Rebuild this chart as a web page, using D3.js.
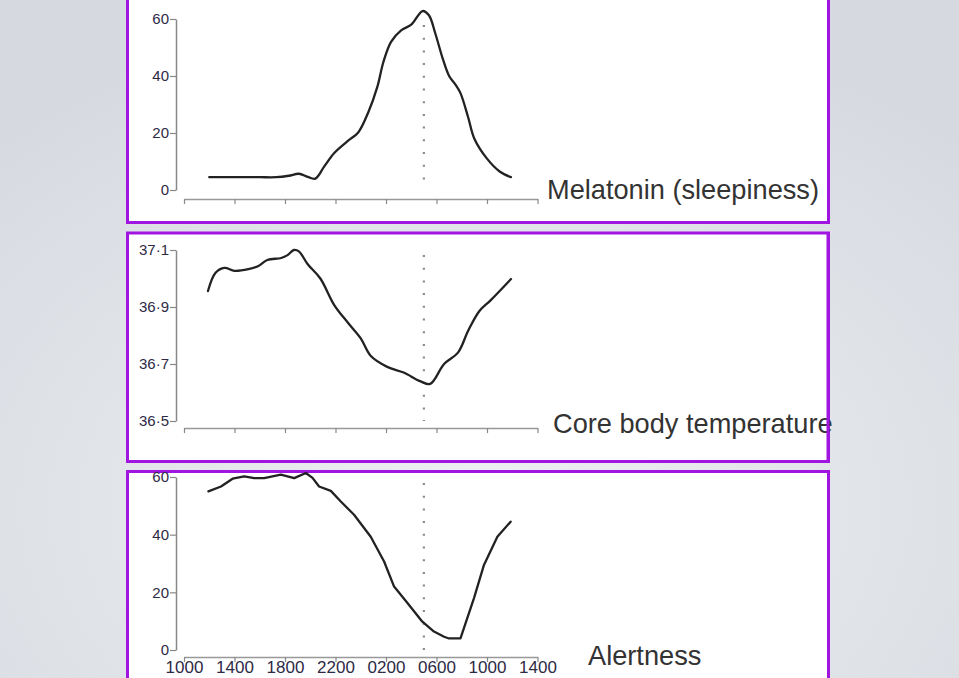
<!DOCTYPE html>
<html>
<head>
<meta charset="utf-8">
<script src="https://cdn.jsdelivr.net/npm/d3@7"></script>
<style>
  html, body { margin: 0; padding: 0; overflow: hidden; }
  svg { display: block; }
</style>
</head>
<body>
<svg id="chart" width="959" height="678"></svg>
<script>
// ---- data (hours counted from 00:00 of day 1; 24+ = next day) ----
const xTickHours = [10, 14, 18, 22, 26, 30, 34, 38];
const xTickLabels = ["1000", "1400", "1800", "2200", "0200", "0600", "1000", "1400"];
const markerHour = 29; // 0500 dotted line

const melatoninHours  = [12, 14, 16, 17.3, 18.3, 19.1, 19.8, 20.4, 21.1, 21.9, 23, 23.8, 24.6, 25.3, 25.8, 26.4, 27.2, 28, 28.9, 29.4, 29.9, 30.5, 31, 31.5, 31.9, 32.5, 33, 34, 35, 35.9];
const melatoninValues = [4.5, 4.5, 4.5, 4.5, 5, 5.7, 4.6, 4, 8.2, 13, 17.3, 20.2, 27.3, 36, 45, 52, 56, 58, 62.8, 61.3, 55, 46, 40, 37, 34, 25.6, 18, 11, 6.5, 4.5];
const melatoninTicks = [0, 20, 40, 60];
const melatoninTickLabels = ["0", "20", "40", "60"];

const tempHours  = [11.9, 12.5, 13.2, 14, 15.1, 15.9, 16.6, 17.7, 18.2, 18.7, 19.1, 19.8, 20.8, 21.9, 23, 24, 24.8, 26.1, 27.4, 28.7, 29.5, 30.6, 31.7, 32.5, 33.4, 34.3, 35.9];
const tempValues = [36.956, 37.02, 37.037, 37.027, 37.033, 37.044, 37.065, 37.072, 37.082, 37.1, 37.095, 37.05, 37.0, 36.907, 36.844, 36.79, 36.728, 36.69, 36.67, 36.64, 36.63, 36.70, 36.74, 36.816, 36.886, 36.924, 36.998];
const tempTicks = [36.5, 36.7, 36.9, 37.1];
const tempTickLabels = ["36·5", "36·7", "36·9", "37·1"];

const alertHours  = [11.93, 12.93, 13.85, 14.77, 15.56, 16.35, 17.67, 18.73, 19.65, 20.18, 20.7, 21.63, 22.42, 23.47, 24.79, 25.85, 26.64, 27.7, 28.88, 29.8, 30.6, 30.99, 31.9, 32.97, 33.76, 34.82, 35.87];
const alertValues = [55, 56.7, 59.4, 60.2, 59.6, 59.6, 60.8, 59.6, 61.4, 59.7, 56.7, 55.2, 51.5, 46.9, 39.3, 30.7, 22, 16.3, 9.8, 6.4, 4.6, 4, 4, 18, 29.5, 39.3, 44.5];
const alertTicks = [0, 20, 40, 60];
const alertTickLabels = ["0", "20", "40", "60"];

const panelTitles = ["Melatonin (sleepiness)", "Core body temperature", "Alertness"];

// ---- drawing ----
const svg = d3.select("#chart");
const defs = svg.append("defs");
const grad = defs.append("radialGradient").attr("id", "bg")
  .attr("cx", "50%").attr("cy", "75%").attr("r", "75%");
grad.append("stop").attr("offset", "0%").attr("stop-color", "#eeeff2");
grad.append("stop").attr("offset", "100%").attr("stop-color", "#d6dae0");
svg.append("rect").attr("width", 959).attr("height", 678).attr("fill", "url(#bg)");

const x = d3.scaleLinear().domain([10, 38]).range([184, 537.5]);
const font = "'Liberation Sans', Arial, sans-serif";

const panels = [
  { top: -6, bottom: 222.5, yDomain: [0, 60], yRange: [190, 19], axisY: 199, dotTop: 25,
    hours: melatoninHours, values: melatoninValues, ticks: melatoninTicks, tickLabels: melatoninTickLabels,
    curve: d3.curveCatmullRom.alpha(0.5), title: panelTitles[0], titleX: 547, titleY: 199, showX: false },
  { top: 233, bottom: 461.5, yDomain: [36.5, 37.1], yRange: [421, 250], axisY: 428, dotTop: 255,
    hours: tempHours, values: tempValues, ticks: tempTicks, tickLabels: tempTickLabels,
    curve: d3.curveCatmullRom.alpha(0.5), title: panelTitles[1], titleX: 553, titleY: 433, showX: false },
  { top: 471.5, bottom: 700, yDomain: [0, 60], yRange: [650, 477], axisY: 657, dotTop: 483,
    hours: alertHours, values: alertValues, ticks: alertTicks, tickLabels: alertTickLabels,
    curve: d3.curveLinear, title: panelTitles[2], titleX: 588, titleY: 665, showX: true }
];

panels.forEach(p => {
  const g = svg.append("g");
  // frame
  g.append("rect")
    .attr("x", 127.5).attr("y", p.top)
    .attr("width", 701).attr("height", p.bottom - p.top)
    .attr("fill", "#ffffff").attr("stroke", "#a015e0").attr("stroke-width", 3);

  const y = d3.scaleLinear().domain(p.yDomain).range(p.yRange);

  // y axis
  const yAxis = d3.axisLeft(y).tickValues(p.ticks)
    .tickFormat((d, i) => p.tickLabels[i]).tickSize(6).tickSizeOuter(0);
  const ya = g.append("g").attr("transform", "translate(176,0)").call(yAxis);
  ya.select(".domain").attr("stroke", "#888").attr("stroke-width", 1.5);
  ya.selectAll(".tick line").attr("stroke", "#888").attr("stroke-width", 1.2);
  ya.selectAll(".tick text").attr("fill", "#2e2a45")
    .style("font-family", font)
    .style("font-size", "15px").attr("x", -7);

  // x axis
  const xAxis = d3.axisBottom(x).tickValues(xTickHours)
    .tickFormat((d, i) => p.showX ? xTickLabels[i] : "").tickSize(5).tickSizeOuter(0);
  const xa = g.append("g").attr("transform", `translate(0,${p.axisY})`).call(xAxis);
  xa.select(".domain").attr("stroke", "#999").attr("stroke-width", 1.5);
  xa.selectAll(".tick line").attr("stroke", "#888").attr("stroke-width", 1.2);
  xa.selectAll(".tick text").attr("fill", "#2e2a45")
    .style("font-family", font)
    .style("font-size", "17px").attr("y", 4);

  // dotted 0500 line
  g.append("line")
    .attr("x1", x(markerHour)).attr("x2", x(markerHour))
    .attr("y1", p.dotTop).attr("y2", p.yRange[0])
    .attr("stroke", "#8a8a8a").attr("stroke-width", 2.2)
    .attr("stroke-dasharray", "2,10.7");

  // curve
  const data = p.hours.map((h, i) => [h, p.values[i]]);
  const line = d3.line().x(d => x(d[0])).y(d => y(d[1])).curve(p.curve);
  g.append("path").datum(data).attr("d", line)
    .attr("fill", "none").attr("stroke", "#222").attr("stroke-width", 2.3)
    .attr("stroke-linejoin", "round").attr("stroke-linecap", "round");

  // title
  g.append("text").attr("x", p.titleX).attr("y", p.titleY)
    .attr("fill", "#333")
    .style("font-family", font)
    .style("font-size", "27.2px")
    .text(p.title);
});

// the right frame edge overlaps the end of the temperature label in the reference
svg.append("line").attr("x1", 828).attr("x2", 828).attr("y1", 233).attr("y2", 461.5)
  .attr("stroke", "#a015e0").attr("stroke-width", 3);
</script>
</body>
</html>
